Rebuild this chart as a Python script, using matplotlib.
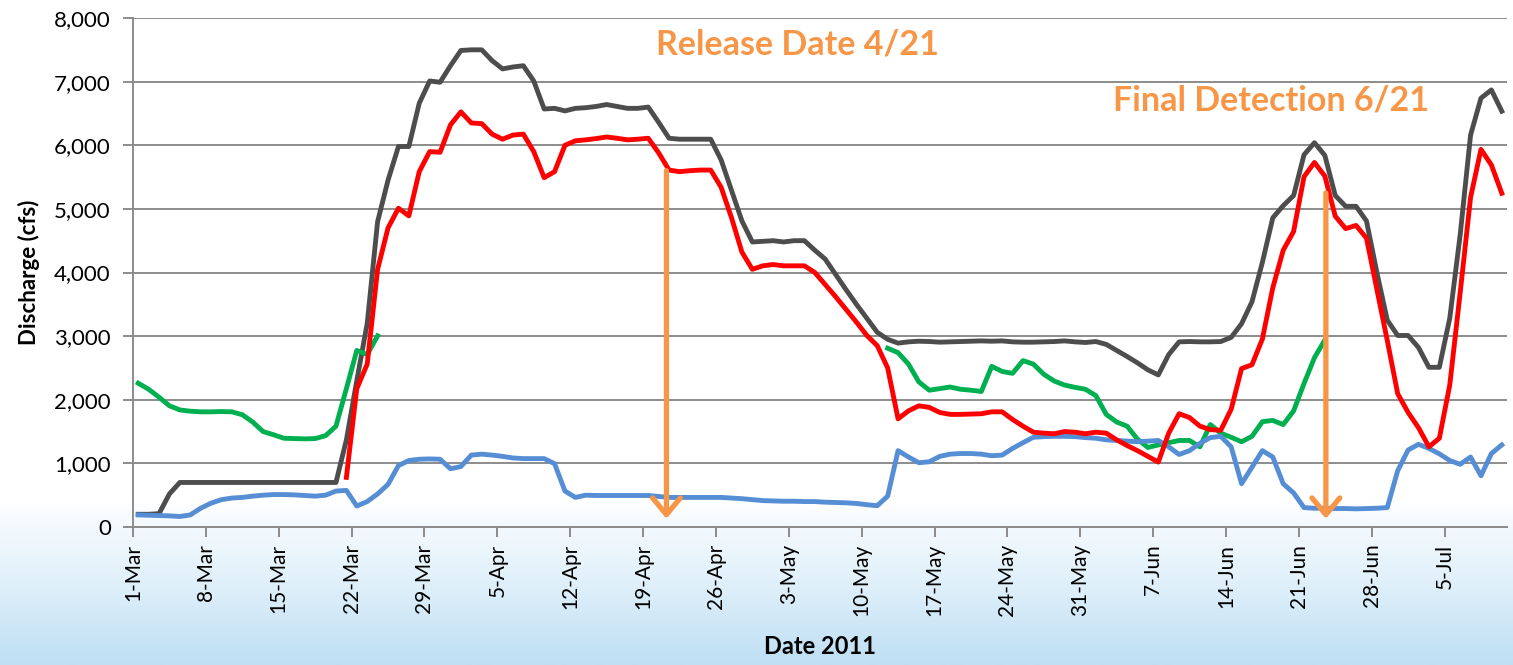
import numpy as np
import matplotlib
matplotlib.use('Agg')
import matplotlib.pyplot as plt
from matplotlib.colors import LinearSegmentedColormap

plt.rcParams['font.family'] = ['Lato', 'DejaVu Sans']

nan = np.nan

# daily values, 1-Mar .. 10-Jul 2011 (132 days)
gray = [200, 200, 210, 520, 700, 700, 700, 700, 700, 700,
        700, 700, 700, 700, 700, 700, 700, 700, 700, 700,
        1370, 2300, 3200, 4800, 5450, 5980, 5980, 6660, 7010, 6990,
        7250, 7490, 7500, 7500, 7330, 7200, 7230, 7250, 7010, 6570,
        6580, 6540, 6580, 6590, 6610, 6640, 6610, 6580, 6580, 6600,
        6360, 6110, 6095, 6095, 6095, 6095, 5770, 5290, 4810, 4480,
        4490, 4500, 4480, 4500, 4500, 4350, 4210, 3970, 3730, 3500,
        3280, 3060, 2950, 2890, 2910, 2920, 2915, 2905, 2910, 2915,
        2920, 2925, 2920, 2925, 2910, 2905, 2905, 2910, 2915, 2925,
        2910, 2900, 2915, 2870, 2775, 2680, 2580, 2470, 2390, 2710,
        2910, 2915, 2910, 2910, 2915, 2980, 3195, 3540, 4160, 4860,
        5050, 5210, 5850, 6040, 5840, 5210, 5040, 5040, 4810, 4000,
        3250, 3010, 3010, 2820, 2510, 2510, 3280, 4590, 6160, 6740,
        6870, 6535]

red = [nan] * 20 + [
        780, 2175, 2560, 4050, 4700, 5010, 4890, 5585, 5900, 5890,
        6320, 6525, 6350, 6340, 6175, 6095, 6160, 6175, 5900, 5490,
        5585, 6000, 6070, 6085, 6105, 6130, 6110, 6085, 6095, 6110,
        5880, 5610, 5585, 5600, 5610, 5610, 5340, 4860, 4320, 4050,
        4105, 4125, 4105, 4105, 4105, 4000, 3810, 3620, 3420, 3220,
        3010, 2850, 2500, 1700, 1825, 1905, 1880, 1800, 1770, 1770,
        1775, 1780, 1810, 1810, 1690, 1585, 1490, 1475, 1465, 1500,
        1490, 1465, 1490, 1475, 1370, 1280, 1200, 1110, 1020, 1475,
        1780, 1720, 1585, 1530, 1520, 1850, 2490, 2550, 2955, 3760,
        4350, 4645, 5505, 5730, 5515, 4885, 4690, 4740, 4540, 3735,
        2930, 2095, 1800, 1560, 1260, 1395, 2230, 3680, 5180, 5935,
        5690, 5245]

green = [2260, 2165, 2040, 1905, 1840, 1820, 1810, 1810, 1815, 1810,
         1765, 1650, 1500, 1450, 1395, 1390, 1385, 1390, 1435, 1585,
         2175, 2775, 2710, 3005] + [nan] * 48 + [
         2810, 2740, 2560, 2280, 2150, 2175, 2200, 2165, 2150, 2130,
         2525, 2445, 2415, 2615, 2560, 2400, 2295, 2230, 2195, 2165,
         2065, 1770, 1650, 1585, 1380, 1250, 1290, 1325, 1360, 1360,
         1260, 1610, 1475, 1410, 1340, 1425, 1655, 1675, 1610, 1825,
         2255, 2660, 2940] + [nan] * 17

blue = [190, 185, 180, 175, 165, 190, 295, 375, 430, 455,
        465, 485, 500, 510, 510, 505, 495, 485, 500, 565,
        575, 330, 400, 520, 670, 965, 1045, 1065, 1070, 1065,
        915, 950, 1130, 1145, 1130, 1110, 1085, 1075, 1075, 1075,
        995, 565, 465, 500, 495, 495, 495, 495, 495, 495,
        480, 465, 465, 465, 465, 465, 465, 455, 445, 430,
        415, 410, 405, 405, 400, 400, 390, 385, 380, 370,
        350, 335, 485, 1200, 1100, 1010, 1025, 1110, 1145, 1155,
        1155, 1145, 1120, 1130, 1235, 1325, 1410, 1420, 1425, 1425,
        1420, 1405, 1395, 1370, 1360, 1350, 1340, 1350, 1360, 1260,
        1140, 1200, 1315, 1405, 1425, 1260, 680, 940, 1200, 1100,
        680, 535, 305, 295, 295, 290, 290, 285, 290, 295,
        305, 885, 1210, 1300, 1235, 1150, 1045, 985, 1100, 805,
        1155, 1290]

tick_days = [0, 7, 14, 21, 28, 35, 42, 49, 56, 63, 70, 77, 84, 91, 98, 105, 112, 119, 126]
tick_labels = ['1-Mar', '8-Mar', '15-Mar', '22-Mar', '29-Mar', '5-Apr', '12-Apr',
               '19-Apr', '26-Apr', '3-May', '10-May', '17-May', '24-May', '31-May',
               '7-Jun', '14-Jun', '21-Jun', '28-Jun', '5-Jul']

days = np.arange(len(gray)) + 0.5

fig = plt.figure(figsize=(15.13, 6.65), dpi=100)

# slide background: white fading into light blue at the bottom
bg = fig.add_axes([0, 0, 1, 1], zorder=-10)
cmap = LinearSegmentedColormap.from_list('bg', [(0, '#ffffff'), (0.15, '#f4fafe'),
                                                (0.5, '#e0f0fa'), (1, '#bfdff4')])
rows = np.linspace(0, 665, 400)
h = np.clip((rows - 500) / 165.0, 0, 1).reshape(-1, 1)
bg.imshow(h, aspect='auto', cmap=cmap, extent=[0, 1, 0, 1], vmin=0, vmax=1, origin='upper')
bg.axis('off')

ax = fig.add_axes([133 / 1513, 1 - 527 / 665, (1507 - 133) / 1513, (527 - 18) / 665])
ax.patch.set_alpha(0)

lw = 3.5
ax.plot(days, gray, color='#4d4d4d', lw=lw, solid_joinstyle='round')
ax.plot(days, green, color='#00b050', lw=lw, solid_joinstyle='round')
ax.plot(days, blue, color='#558ed5', lw=lw, solid_joinstyle='round')
ax.plot(days, red, color='#ff0000', lw=lw, solid_joinstyle='round')

ax.set_xlim(0, 132)
ax.set_ylim(0, 8000)
ax.set_yticks(range(0, 8001, 1000))
ax.set_yticklabels(['{:,}'.format(v) for v in range(0, 8001, 1000)], fontsize=16)
ax.set_xticks(tick_days)
ax.set_xticklabels(tick_labels, rotation=90, fontsize=15)
ax.grid(axis='y', color='#8c8c8c', lw=1.4)
ax.set_axisbelow(True)
for s in ['top', 'right']:
    ax.spines[s].set_visible(False)
for s in ['left', 'bottom']:
    ax.spines[s].set_color('#8c8c8c')
    ax.spines[s].set_linewidth(1.4)
ax.tick_params(axis='both', color='#8c8c8c', width=1.4, length=7)
ax.tick_params(axis='y', pad=9)
ax.tick_params(axis='x', pad=5)
ax.set_ylabel('Discharge (cfs)', fontsize=16, fontweight='bold', labelpad=10)
ax.set_xlabel('Date 2011', fontsize=17, fontweight='bold', labelpad=14)

orange = '#f79646'
ax.text(63.8, 7580, 'Release Date 4/21', color=orange, fontsize=24.5, fontweight='bold',
        ha='center', va='center')
ax.text(109.3, 6710, 'Final Detection 6/21', color=orange, fontsize=24.5, fontweight='bold',
        ha='center', va='center')
ax.annotate('', xy=(51.25, 130), xytext=(51.25, 5600),
            arrowprops=dict(arrowstyle='->,head_length=1.2,head_width=1.0', color=orange,
                            lw=3.8, mutation_scale=10, shrinkA=0, shrinkB=0))
ax.annotate('', xy=(114.6, 130), xytext=(114.6, 5250),
            arrowprops=dict(arrowstyle='->,head_length=1.2,head_width=1.0', color=orange,
                            lw=3.8, mutation_scale=10, shrinkA=0, shrinkB=0))

fig.savefig('out.png', dpi=100)
